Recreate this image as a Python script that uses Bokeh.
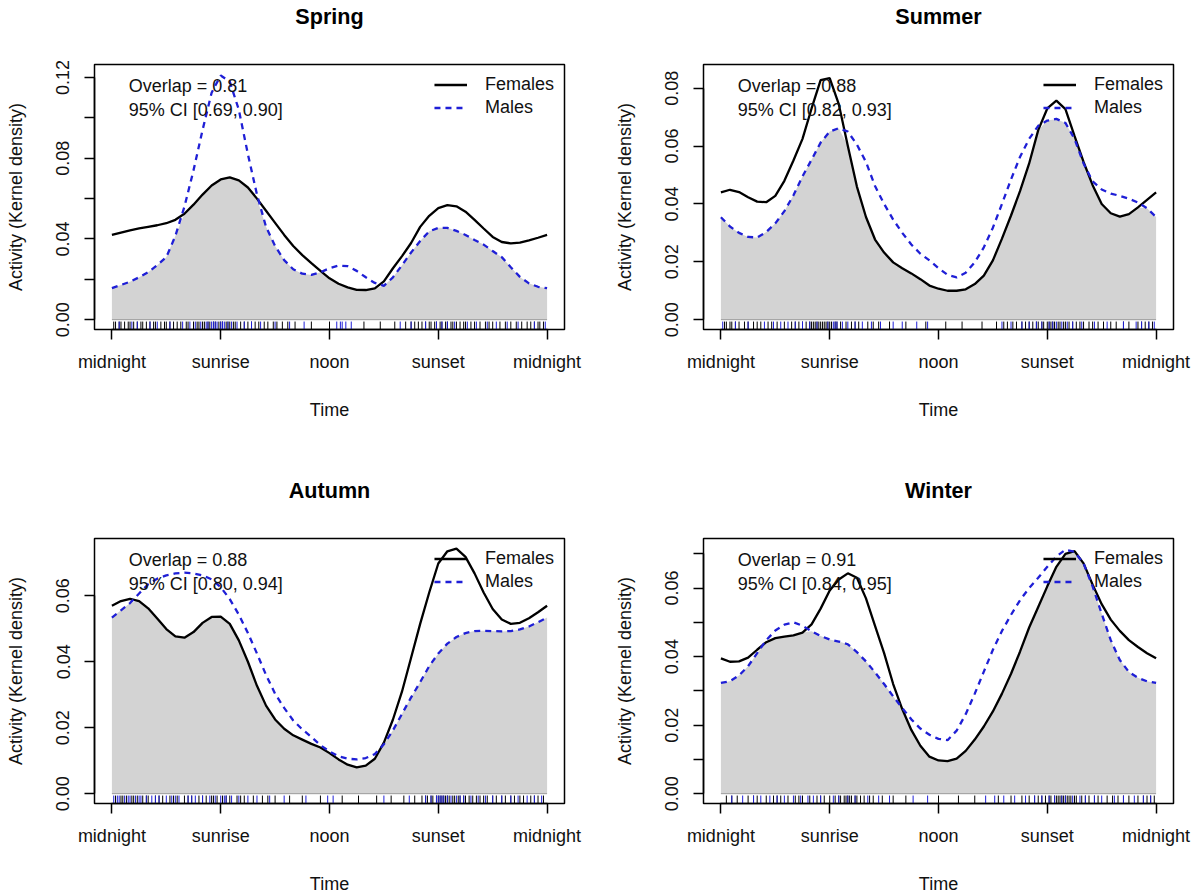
import numpy as np
from bokeh.plotting import figure
from bokeh.layouts import column, row
from bokeh.models import (FixedTicker, PrintfTickFormatter, Label, Legend,
                          LegendItem, Range1d, Title)
from bokeh.embed import file_html
from bokeh.resources import INLINE

# ---------------- data ----------------
hours = [0, 0.5, 1, 1.5, 2, 2.5, 3, 3.5, 4, 4.5, 5, 5.5, 6, 6.5, 7, 7.5, 8,
         8.5, 9, 9.5, 10, 10.5, 11, 11.5, 12, 12.5, 13, 13.5, 14, 14.5, 15,
         15.5, 16, 16.5, 17, 17.5, 18, 18.5, 19, 19.5, 20, 20.5, 21, 21.5,
         22, 22.5, 23, 23.5, 24]

time_ticks = [0, 6, 12, 18, 24]
time_labels = ["midnight", "sunrise", "noon", "sunset", "midnight"]

spring_f = [0.0420, 0.0432, 0.0443, 0.0452, 0.0460, 0.0468, 0.0478, 0.0495,
            0.0525, 0.0570, 0.0620, 0.0665, 0.0695, 0.0705, 0.0690, 0.0655,
            0.0600, 0.0540, 0.0480, 0.0420, 0.0365, 0.0320, 0.0280, 0.0242,
            0.0205, 0.0178, 0.0160, 0.0148, 0.0147, 0.0155, 0.0190, 0.0255,
            0.0315, 0.0380, 0.0460, 0.0515, 0.0553, 0.0568, 0.0562, 0.0535,
            0.0495, 0.0452, 0.0410, 0.0385, 0.0378, 0.0382, 0.0393, 0.0406,
            0.0420]
spring_m = [0.0156, 0.0172, 0.0188, 0.0210, 0.0235, 0.0270, 0.0310, 0.0415,
            0.0560, 0.0740, 0.0940, 0.1125, 0.1210, 0.1180, 0.1040, 0.0820,
            0.0620, 0.0460, 0.0365, 0.0295, 0.0250, 0.0228, 0.0222, 0.0235,
            0.0255, 0.0268, 0.0265, 0.0242, 0.0210, 0.0182, 0.0168, 0.0210,
            0.0270, 0.0333, 0.0390, 0.0438, 0.0455, 0.0455, 0.0440, 0.0420,
            0.0395, 0.0372, 0.0340, 0.0310, 0.0260, 0.0212, 0.0180, 0.0163,
            0.0156]

summer_f = [0.0440, 0.0449, 0.0441, 0.0423, 0.0408, 0.0406, 0.0428, 0.0480,
            0.0550, 0.0625, 0.0730, 0.0828, 0.0835, 0.0745, 0.0600, 0.0460,
            0.0355, 0.0277, 0.0232, 0.0198, 0.0178, 0.0160, 0.0140, 0.0118,
            0.0107, 0.0100, 0.0100, 0.0105, 0.0123, 0.0152, 0.0205, 0.0280,
            0.0360, 0.0445, 0.0540, 0.0655, 0.0730, 0.0757, 0.0728, 0.0635,
            0.0545, 0.0465, 0.0400, 0.0368, 0.0356, 0.0365, 0.0388, 0.0414,
            0.0440]
summer_m = [0.0354, 0.0322, 0.0300, 0.0286, 0.0284, 0.0303, 0.0333, 0.0375,
            0.0430, 0.0495, 0.0553, 0.0612, 0.0650, 0.0662, 0.0650, 0.0605,
            0.0545, 0.0462, 0.0400, 0.0346, 0.0300, 0.0260, 0.0228, 0.0205,
            0.0178, 0.0155, 0.0146, 0.0162, 0.0198, 0.0250, 0.0318, 0.0400,
            0.0485, 0.0563, 0.0625, 0.0670, 0.0688, 0.0694, 0.0680, 0.0625,
            0.0540, 0.0478, 0.0450, 0.0436, 0.0428, 0.0418, 0.0405, 0.0385,
            0.0355]

autumn_f = [0.0570, 0.0584, 0.0591, 0.0584, 0.0562, 0.0531, 0.0499, 0.0477,
            0.0473, 0.0490, 0.0518, 0.0536, 0.0537, 0.0515, 0.0465, 0.0400,
            0.0327, 0.0267, 0.0225, 0.0197, 0.0177, 0.0164, 0.0151, 0.0140,
            0.0123, 0.0104, 0.0088, 0.0080, 0.0085, 0.0106, 0.0155, 0.0225,
            0.0310, 0.0412, 0.0515, 0.0610, 0.0698, 0.0735, 0.0743, 0.0718,
            0.0668, 0.0610, 0.0560, 0.0528, 0.0515, 0.0518, 0.0532, 0.0550,
            0.0570]
autumn_m = [0.0534, 0.0556, 0.0578, 0.0607, 0.0635, 0.0652, 0.0662, 0.0668,
            0.0670, 0.0668, 0.0662, 0.0650, 0.0626, 0.0590, 0.0543, 0.0487,
            0.0425, 0.0360, 0.0303, 0.0260, 0.0222, 0.0195, 0.0172, 0.0147,
            0.0128, 0.0113, 0.0106, 0.0104, 0.0108, 0.0120, 0.0150, 0.0192,
            0.0242, 0.0292, 0.0338, 0.0387, 0.0425, 0.0455, 0.0475, 0.0487,
            0.0493, 0.0494, 0.0493, 0.0492, 0.0493, 0.0498, 0.0507, 0.0520,
            0.0534]

winter_f = [0.0395, 0.0385, 0.0386, 0.0397, 0.0420, 0.0442, 0.0454, 0.0458,
            0.0462, 0.0470, 0.0494, 0.0540, 0.0593, 0.0625, 0.0643, 0.0630,
            0.0570, 0.0490, 0.0410, 0.0320, 0.0247, 0.0186, 0.0140, 0.0108,
            0.0097, 0.0095, 0.0102, 0.0125, 0.0158, 0.0196, 0.0240, 0.0292,
            0.0350, 0.0415, 0.0485, 0.0545, 0.0605, 0.0662, 0.0700, 0.0708,
            0.0672, 0.0610, 0.0553, 0.0508, 0.0475, 0.0448, 0.0428, 0.0410,
            0.0395]
winter_m = [0.0323, 0.0328, 0.0345, 0.0372, 0.0410, 0.0448, 0.0476, 0.0493,
            0.0500, 0.0490, 0.0474, 0.0460, 0.0450, 0.0444, 0.0436, 0.0413,
            0.0386, 0.0354, 0.0320, 0.0284, 0.0250, 0.0217, 0.0190, 0.0172,
            0.0160, 0.0156, 0.0184, 0.0232, 0.0292, 0.0356, 0.0420, 0.0475,
            0.0522, 0.0565, 0.0600, 0.0630, 0.0662, 0.0692, 0.0712, 0.0706,
            0.0672, 0.0605, 0.0525, 0.0448, 0.0390, 0.0355, 0.0338, 0.0328,
            0.0323]

# observation times (rug), hours
spring_f_rug = [0.1, 0.2, 0.4, 0.5, 0.7, 0.9, 1.0, 1.2, 1.4, 1.6, 1.7, 1.9, 2.1,
                2.3, 2.4, 2.7, 2.9, 3.0, 3.2, 3.4, 3.6, 3.8, 4.1, 4.2, 4.5,
                4.7, 4.8, 5.0, 5.1, 5.3, 5.4, 5.6, 5.7, 5.9, 6.0, 6.1, 6.3,
                6.4, 6.5, 6.7, 6.8, 7.1, 7.3, 7.5, 7.7, 7.9, 8.1, 8.4, 8.6,
                8.9, 9.1, 9.4, 9.7, 10.1, 11.0, 12.0, 13.9, 14.8, 15.6, 16.2,
                16.5, 16.7, 16.9, 17.1, 17.3, 17.5, 17.6, 17.8, 17.9, 18.1,
                18.2, 18.4, 18.5, 18.7, 18.8, 19.0, 19.2, 19.4, 19.5, 19.8,
                20.0, 20.3, 20.6, 20.8, 21.0, 21.4, 21.7, 22.0, 22.3, 22.6,
                22.9, 23.1, 23.3, 23.5, 23.6, 23.8]
spring_m_rug = [0.4, 1.1, 1.4, 2.1, 2.5, 3.2, 3.9, 4.3, 4.6, 4.9, 5.2, 5.3, 5.5,
                5.6, 5.7, 5.8, 6.0, 6.1, 6.2, 6.4, 6.6, 6.9, 7.3, 7.7, 8.2,
                9.0, 9.8, 10.6, 12.4, 12.6, 12.7, 12.9, 13.2, 15.9, 16.5, 17.3,
                17.9, 18.2, 18.5, 18.9, 19.6, 20.1, 20.7, 21.2, 21.8, 22.4,
                23.3, 23.9]
summer_f_rug = [0.2, 0.3, 0.5, 0.6, 0.8, 1.0, 1.3, 1.5, 1.8, 2.0, 2.2, 2.6, 2.8,
                3.1, 3.5, 3.9, 4.1, 4.3, 4.5, 4.7, 4.9, 5.0, 5.1, 5.2, 5.3,
                5.4, 5.5, 5.6, 5.7, 5.8, 5.9, 6.0, 6.1, 6.3, 6.4, 6.6, 6.9,
                7.2, 7.4, 7.6, 8.1, 8.4, 8.7, 9.3, 10.2, 11.3, 12.4, 13.3,
                14.4, 15.2, 15.6, 15.8, 16.1, 16.3, 16.6, 16.8, 17.0, 17.2,
                17.4, 17.5, 17.7, 17.8, 18.0, 18.1, 18.2, 18.3, 18.4, 18.6,
                18.7, 18.9, 19.0, 19.2, 19.4, 19.6, 19.8, 20.0, 20.3, 20.5,
                20.8, 21.1, 21.5, 21.8, 22.2, 22.5, 23.0, 23.2, 23.4, 23.6,
                23.8]
summer_m_rug = [0.1, 0.8, 1.5, 2.4, 2.9, 3.3, 3.7, 4.1, 4.5, 4.9, 5.3, 5.9, 6.2,
                6.3, 6.4, 6.7, 7.0, 7.4, 7.8, 8.3, 8.8, 9.5, 10.0, 10.8, 11.4,
                15.5, 16.0, 16.6, 17.0, 17.4, 17.7, 18.1, 18.3, 18.5, 18.8,
                19.1, 19.4, 19.9, 20.6, 21.3, 22.2, 22.9, 23.2, 23.6, 23.9]
autumn_f_rug = [0.2, 0.5, 0.6, 0.8, 1.1, 1.2, 1.4, 1.7, 1.9, 2.0, 2.4, 2.6, 2.8,
                3.2, 3.4, 3.6, 4.0, 4.2, 4.4, 4.8, 5.0, 5.2, 5.5, 5.6, 5.8,
                6.1, 6.3, 6.5, 6.9, 7.1, 7.3, 7.8, 8.3, 8.6, 9.0, 9.8, 10.5,
                11.5, 12.7, 13.6, 14.6, 15.4, 16.1, 16.7, 17.1, 17.3, 17.4,
                17.6, 17.7, 17.9, 18.0, 18.1, 18.2, 18.3, 18.4, 18.5, 18.6,
                18.8, 18.9, 19.1, 19.2, 19.4, 19.5, 19.7, 19.9, 20.1, 20.3,
                20.5, 20.7, 21.0, 21.2, 21.5, 21.7, 22.0, 22.2, 22.5, 22.7,
                23.1, 23.3, 23.5, 23.8]
autumn_m_rug = [0.1, 0.3, 0.4, 0.7, 0.9, 1.0, 1.3, 1.5, 1.6, 1.9, 2.2, 2.4, 2.6,
                3.0, 3.3, 3.5, 3.7, 4.2, 4.4, 4.6, 5.0, 5.4, 5.7, 6.0, 6.2,
                6.3, 6.6, 7.0, 7.5, 8.0, 8.7, 9.5, 10.7, 11.9, 12.2, 15.0,
                16.4, 17.3, 17.6, 17.9, 18.0, 18.1, 18.2, 18.3, 18.5, 18.7,
                19.0, 19.2, 19.4, 19.8, 20.2, 20.6, 21.0, 21.5, 22.0, 22.4,
                22.9, 23.3, 23.7]
winter_f_rug = [0.3, 0.6, 0.9, 1.5, 1.8, 2.0, 2.5, 2.9, 3.1, 3.3, 3.7, 4.1, 4.3,
                4.5, 4.9, 5.3, 5.5, 5.7, 6.0, 6.3, 6.5, 6.6, 6.8, 6.9, 7.0,
                7.1, 7.2, 7.4, 7.5, 7.7, 7.9, 8.2, 8.4, 8.9, 9.5, 10.2, 12.0,
                13.1, 14.0, 15.3, 16.0, 16.6, 17.0, 17.3, 17.5, 17.7, 17.9,
                18.1, 18.2, 18.4, 18.5, 18.6, 18.7, 18.8, 18.9, 19.0, 19.1,
                19.2, 19.3, 19.5, 19.6, 19.9, 20.1, 20.3, 20.6, 20.8, 21.3,
                21.6, 21.9, 22.2, 22.5, 23.0, 23.3, 23.5, 23.7, 23.9]
winter_m_rug = [0.6, 1.2, 1.8, 2.2, 2.7, 3.1, 3.5, 4.0, 4.4, 4.8, 5.1, 5.5, 6.2,
                6.5, 7.0, 7.4, 8.1, 8.7, 9.3, 10.6, 11.4, 14.6, 15.1, 15.6,
                16.2, 16.8, 17.3, 17.7, 18.1, 18.4, 18.8, 19.0, 19.4, 19.8,
                20.1, 20.6, 21.0, 21.7, 22.2, 22.8, 23.3, 23.7]

seasons = ["Spring", "Summer", "Autumn", "Winter"]
overlap_text = ["Overlap = 0.81", "Overlap = 0.88", "Overlap = 0.88", "Overlap = 0.91"]
ci_text = ["95% CI [0.69, 0.90]", "95% CI [0.82, 0.93]",
           "95% CI [0.80, 0.94]", "95% CI [0.84, 0.95]"]
density_max = [0.1216, 0.0848, 0.0744, 0.0716]
y_major = [[0.00, 0.04, 0.08, 0.12], [0.00, 0.02, 0.04, 0.06, 0.08],
           [0.00, 0.02, 0.04, 0.06], [0.00, 0.02, 0.04, 0.06]]
y_minor = [[0.02, 0.06, 0.10], [], [], [0.01, 0.03, 0.05, 0.07]]

# ---------------- styling ----------------
FONT = "Liberation Sans"
BLUE = "#1f1fd6"
FILL = "#d3d3d3"


def make_panel(i, fem, mal, frug, mrug, left_col, top_row):
    ymax = density_max[i]
    ylo, yhi = -0.04 * ymax, 1.04 * ymax
    xlo, xhi = -0.04 * 24, 24 + 0.04 * 24
    p = figure(frame_width=470, frame_height=265,
               x_range=Range1d(xlo, xhi), y_range=Range1d(ylo, yhi),
               output_backend="svg", toolbar_location=None, tools="",
               min_border_left=94 if left_col else 103,
               min_border_right=36 if left_col else 18,
               min_border_top=10,
               min_border_bottom=145 if top_row else 86)
    p.background_fill_color = "white"
    p.border_fill_color = "white"
    p.xgrid.visible = False
    p.ygrid.visible = False
    p.outline_line_color = "black"
    p.outline_line_width = 1.5

    # blank spacer between frame and title
    p.add_layout(Title(text=" ", text_font=FONT, text_font_size="30px",
                       standoff=0), "above")
    p.title.text = seasons[i]
    p.title.align = "center"
    p.title.text_font = FONT
    p.title.text_font_size = "21.6px"
    p.title.text_font_style = "bold"
    p.title.text_color = "black"
    p.title.standoff = 2

    # overlap area
    ov = np.minimum(np.array(fem), np.array(mal))
    p.varea(x=hours, y1=0, y2=ov, fill_color=FILL)
    p.line([hours[0], hours[-1]], [0, 0], line_color="#9a9a9a", line_width=1)

    # rug
    rtop = ylo + 0.03 * (yhi - ylo)
    p.segment(x0=frug, x1=frug, y0=[ylo] * len(frug), y1=[rtop] * len(frug),
              line_color="black", line_width=1)
    p.segment(x0=mrug, x1=mrug, y0=[ylo] * len(mrug), y1=[rtop] * len(mrug),
              line_color=BLUE, line_width=1)

    rf = p.line(hours, fem, line_color="black", line_width=2.3)
    rm = p.line(hours, mal, line_color=BLUE, line_width=2.3, line_dash="6 5")

    # text
    for frac, txt in ((0.917, overlap_text[i]), (0.829, ci_text[i])):
        p.add_layout(Label(x=0.93, y=ylo + frac * (yhi - ylo), text=txt,
                           text_font=FONT, text_font_size="18px",
                           text_baseline="middle", text_align="left",
                           text_color="#111111"))

    leg = Legend(items=[LegendItem(label="Females", renderers=[rf]),
                        LegendItem(label="Males", renderers=[rm])],
                 location="top_right", border_line_alpha=0,
                 background_fill_alpha=0, label_text_font=FONT,
                 label_text_font_size="18px", label_text_color="#111111",
                 glyph_width=33, glyph_height=21, label_height=21,
                 label_standoff=18, padding=10, margin=0, spacing=2)
    p.add_layout(leg)

    # axes
    xa = p.xaxis[0]
    xa.ticker = FixedTicker(ticks=time_ticks)
    xa.major_label_overrides = {t: l for t, l in zip(time_ticks, time_labels)}
    xa.bounds = (time_ticks[0], time_ticks[-1])
    xa.axis_label = "Time"
    ya = p.yaxis[0]
    ya.ticker = FixedTicker(ticks=y_major[i], minor_ticks=y_minor[i])
    ya.formatter = PrintfTickFormatter(format="%.2f")
    ya.bounds = (0, max(y_major[i] + y_minor[i]))
    ya.axis_label = "Activity (Kernel density)"
    ya.major_label_orientation = "vertical"
    ya.minor_tick_in = 0
    ya.minor_tick_out = 10
    ya.minor_tick_line_color = "black"
    ya.minor_tick_line_width = 1.5
    xa.minor_tick_line_color = None
    for ax in (xa, ya):
        ax.axis_line_color = "black"
        ax.axis_line_width = 1.5
        ax.major_tick_line_color = "black"
        ax.major_tick_line_width = 1.5
        ax.major_tick_in = 0
        ax.major_tick_out = 10
        ax.major_label_text_font = FONT
        ax.major_label_text_font_size = "18px"
        ax.major_label_text_color = "#111111"
        ax.axis_label_text_font = FONT
        ax.axis_label_text_font_size = "18px"
        ax.axis_label_text_font_style = "normal"
        ax.axis_label_text_color = "#111111"
    xa.major_label_standoff = 12
    xa.axis_label_standoff = 25
    ya.major_label_standoff = 15
    ya.axis_label_standoff = 28
    return p


p1 = make_panel(0, spring_f, spring_m, spring_f_rug, spring_m_rug, True, True)
p2 = make_panel(1, summer_f, summer_m, summer_f_rug, summer_m_rug, False, True)
p3 = make_panel(2, autumn_f, autumn_m, autumn_f_rug, autumn_m_rug, True, False)
p4 = make_panel(3, winter_f, winter_m, winter_f_rug, winter_m_rug, False, False)

layout = column(row(p1, p2), row(p3, p4))
open("out.html", "w").write(file_html(layout, INLINE))
